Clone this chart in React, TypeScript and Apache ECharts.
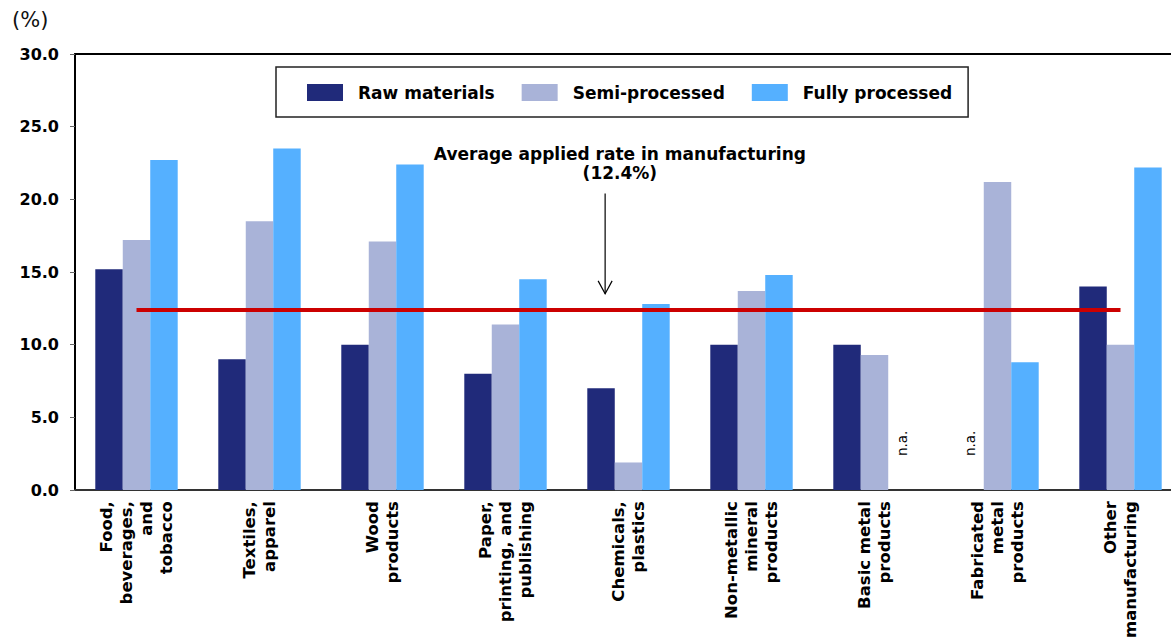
import React, { useEffect, useRef } from "react";
import * as echarts from "echarts";

const categories = [
  "Food,\nbeverages,\nand\ntobacco",
  "Textiles,\napparel",
  "Wood\nproducts",
  "Paper,\nprinting, and\npublishing",
  "Chemicals,\nplastics",
  "Non-metallic\nmineral\nproducts",
  "Basic metal\nproducts",
  "Fabricated\nmetal\nproducts",
  "Other\nmanufacturing",
];
const seriesNames = ["Raw materials", "Semi-processed", "Fully processed"];
const rawMaterials: (number | null)[] = [15.2, 9.0, 10.0, 8.0, 7.0, 10.0, 10.0, null, 14.0];
const semiProcessed: (number | null)[] = [17.2, 18.5, 17.1, 11.4, 1.9, 13.7, 9.3, 21.2, 10.0];
const fullyProcessed: (number | null)[] = [22.7, 23.5, 22.4, 14.5, 12.8, 14.8, null, 8.8, 22.2];
const averageRate = 12.4;
const annotationLines = ["Average applied rate in manufacturing", "(12.4%)"];
const yTicks = { min: 0, max: 30, interval: 5 };

const colors = ["#202a7a", "#a9b3d8", "#55b0ff"];
const FONT = "DejaVu Sans";

function toData(values: (number | null)[]) {
  return values.map((v) =>
    v === null
      ? {
          value: 0,
          label: {
            show: true,
            formatter: "n.a.",
            position: "top",
            distance: 34,
            rotate: 90,
            align: "left",
            verticalAlign: "middle",
            fontSize: 13.5,
            fontFamily: FONT,
            color: "#000",
          },
        }
      : v
  );
}

export default function App() {
  const ref = useRef<HTMLDivElement>(null);
  useEffect(() => {
    if (!ref.current) return;
    const chart = echarts.init(ref.current, null, { renderer: "svg" });
    const allValues = [rawMaterials, semiProcessed, fullyProcessed];
    const series: any[] = allValues.map((vals, i) => ({
      name: seriesNames[i],
      type: "bar",
      xAxisIndex: 0,
      yAxisIndex: 0,
      barGap: "0%",
      barCategoryGap: "33%",
      itemStyle: { color: colors[i] },
      data: toData(vals),
    }));
    series[1].markLine = {
      silent: true,
      symbol: "none",
      label: { show: false },
      lineStyle: { color: "#cc0000", width: 4, type: "solid" },
      data: [[{ coord: [0, averageRate] }, { coord: [categories.length - 1, averageRate] }]],
    };
    chart.setOption({
      animation: false,
      textStyle: { fontFamily: FONT },
      grid: { left: 75, top: 54, width: 1107, bottom: 147, containLabel: false },
      legend: {
        data: seriesNames,
        left: 276,
        top: 67,
        orient: "horizontal",
        icon: "rect",
        itemWidth: 36,
        itemHeight: 17,
        itemGap: 27,
        padding: [17, 16, 16, 31],
        borderColor: "#222",
        borderWidth: 1.5,
        textStyle: { fontSize: 17, fontWeight: "bold", color: "#000", fontFamily: FONT, padding: [0, 0, 0, 10] },
      },
      xAxis: [
        {
          type: "category",
          data: categories,
          position: "bottom",
          axisLine: { show: true, lineStyle: { color: "#333", width: 2 } },
          axisTick: { show: false },
          axisLabel: {
            interval: 0,
            rotate: 90,
            margin: 11,
            fontSize: 16.5,
            lineHeight: 20,
            fontWeight: "bold",
            color: "#000",
            fontFamily: FONT,
          },
        },
        {
          type: "category",
          data: categories,
          position: "top",
          axisLine: { show: true, lineStyle: { color: "#000", width: 2 } },
          axisTick: { show: false },
          axisLabel: { show: false },
        },
      ],
      yAxis: {
        type: "value",
        min: yTicks.min,
        max: yTicks.max,
        interval: yTicks.interval,
        splitLine: { show: false },
        axisLine: { show: true, lineStyle: { color: "#000", width: 2 } },
        axisTick: { show: true, length: 5, lineStyle: { color: "#666" } },
        axisLabel: {
          formatter: (v: number) => v.toFixed(1),
          fontSize: 16,
          fontWeight: "bold",
          color: "#000",
          margin: 16,
          fontFamily: FONT,
        },
      },
      series,
    });

    const finder = { xAxisIndex: 0, yAxisIndex: 0 };
    const px = (cat: number, val: number) => {
      const c0 = Math.floor(cat);
      const a = chart.convertToPixel(finder, [c0, val]) as number[];
      const b = chart.convertToPixel(finder, [c0 + 1, val]) as number[];
      const f = cat - c0;
      return [a[0] + (b[0] - a[0]) * f, a[1]];
    };
    const arrowTop = px(3.81, 20.4);
    const arrowBot = px(3.81, 13.5);
    const textPos = px(3.93, 22.5);
    chart.setOption({
      graphic: [
        {
          type: "text",
          left: 12,
          top: 9,
          style: { text: "(%)", fontSize: 21, fontFamily: FONT, fill: "#111" },
        },
        {
          type: "text",
          x: textPos[0],
          y: textPos[1],
          style: {
            text: annotationLines.join("\n"),
            fontSize: 17,
            fontWeight: "bold",
            lineHeight: 19,
            fontFamily: FONT,
            fill: "#000",
            align: "center",
            verticalAlign: "middle",
          },
        },
        {
          type: "line",
          shape: { x1: arrowTop[0], y1: arrowTop[1], x2: arrowBot[0], y2: arrowBot[1] },
          style: { stroke: "#000", lineWidth: 1.2 },
        },
        {
          type: "polyline",
          shape: {
            points: [
              [arrowBot[0] - 7, arrowBot[1] - 13],
              [arrowBot[0], arrowBot[1]],
              [arrowBot[0] + 7, arrowBot[1] - 13],
            ],
          },
          style: { stroke: "#000", lineWidth: 1.2, fill: "none" },
        },
      ],
    });
    return () => chart.dispose();
  }, []);
  return (
    <div
      style={{
        position: "absolute",
        left: 0,
        top: 0,
        width: 1171,
        height: 641,
        overflow: "hidden",
        background: "#fff",
      }}
    >
      <div ref={ref} style={{ width: 1200, height: 641 }} />
    </div>
  );
}
